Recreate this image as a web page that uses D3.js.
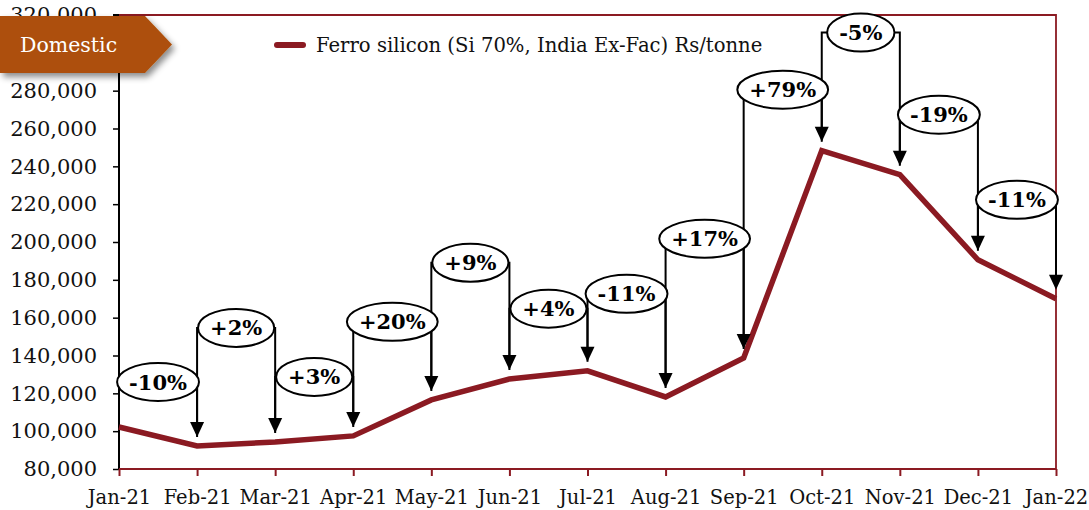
<!DOCTYPE html>
<html><head><meta charset="utf-8">
<script src="https://cdn.jsdelivr.net/npm/d3@7"></script>
<style>body{margin:0;background:#fff}svg{display:block}</style>
</head><body><svg id="c" width="1089" height="510"></svg>
<script>
const months = ["Jan-21","Feb-21","Mar-21","Apr-21","May-21","Jun-21","Jul-21","Aug-21","Sep-21","Oct-21","Nov-21","Dec-21","Jan-22"];
const prices = [102200, 92200, 94300, 97500, 116500, 127600, 131900, 118100, 138700, 248300, 235600, 190600, 170000];
const changeLabels = ["-10%","+2%","+3%","+20%","+9%","+4%","-11%","+17%","+79%","-5%","-19%","-11%"];
const bracketLevels = [126000, 154600, 128700, 157800, 189000, 164700, 172600, 201700, 280500, 310700, 267300, 222300];
const yTicks = [80000,100000,120000,140000,160000,180000,200000,220000,240000,260000,280000,300000,320000];
const seriesName = "Ferro silicon (Si 70%, India Ex-Fac) Rs/tonne";
const badgeText = "Domestic";

const RED = "#8B1A22";
const FONT = "'DejaVu Serif', Georgia, serif";
const svg = d3.select("#c");
const L = 119, R = 1056, T = 15, B = 469;
const x = d3.scalePoint().domain(months).range([L, R]);
const y = d3.scaleLinear().domain([80000, 320000]).range([B, T]);

const defs = svg.append("defs");
const f = defs.append("filter").attr("id","sh").attr("x","-20%").attr("y","-20%").attr("width","150%").attr("height","160%");
f.append("feDropShadow").attr("dx",3).attr("dy",4).attr("stdDeviation",3).attr("flood-color","#000").attr("flood-opacity",0.45);

// y axis
const ya = svg.append("g").attr("transform",`translate(${L},0)`)
  .call(d3.axisLeft(y).tickValues(yTicks).tickSize(6).tickPadding(16).tickFormat(d3.format(",")));
ya.select(".domain").attr("stroke","#000").attr("stroke-width",2).attr("d",`M-6,${T}H0V${B}`);
ya.selectAll(".tick line").attr("stroke","#000").attr("stroke-width",1.5);
ya.selectAll("text").attr("font-family",FONT).attr("font-size",21).attr("fill","#111");

// frame top/right
svg.append("path").attr("d",`M${L},${T}H${R}V${B}`).attr("fill","none").attr("stroke",RED).attr("stroke-width",1.8);

// x axis
const xa = svg.append("g").attr("transform",`translate(0,${B})`)
  .call(d3.axisBottom(x).tickSize(7).tickPadding(14));
xa.select(".domain").attr("stroke",RED).attr("stroke-width",2).attr("d",`M${L},0H${R}`);
xa.selectAll(".tick line").attr("stroke",RED).attr("stroke-width",2);
xa.selectAll("text").attr("font-family",FONT).attr("font-size",19.5).attr("fill","#111");

// line
svg.append("path").datum(prices)
  .attr("d", d3.line().x((d,i)=>x(months[i])).y(d=>y(d)))
  .attr("fill","none").attr("stroke",RED).attr("stroke-width",5.5).attr("stroke-linejoin","miter");

// brackets
const gap = 9, ah = 15, aw = 7;
const ann = svg.append("g");
changeLabels.forEach((lab,i)=>{
  const x0 = x(months[i]), x1 = x(months[i+1]);
  const yl = y(bracketLevels[i]);
  const y0 = y(prices[i]) - gap, y1 = y(prices[i+1]) - gap;
  ann.append("path").attr("d",`M${x0},${y0}V${yl}H${x1}V${y1-ah+1}`)
    .attr("fill","none").attr("stroke","#000").attr("stroke-width",2);
  ann.append("path").attr("d",`M${x1-aw},${y1-ah}L${x1+aw},${y1-ah}L${x1},${y1}Z`).attr("fill","#000");
});
changeLabels.forEach((lab,i)=>{
  const cx = (x(months[i]) + x(months[i+1]))/2;
  const cy = y(bracketLevels[i]);
  const g = ann.append("g");
  const el = g.append("ellipse").attr("cx",cx).attr("cy",cy).attr("ry",19)
    .attr("fill","#fff").attr("stroke","#000").attr("stroke-width",2);
  const t = g.append("text").attr("x",cx).attr("y",cy).attr("dy","0.36em")
    .attr("text-anchor","middle").attr("font-family",FONT).attr("font-weight","bold")
    .attr("font-size",21).attr("fill","#000").text(lab);
  const w = t.node().getComputedTextLength();
  el.attr("rx", w/2 + 12);
});

// legend
svg.append("line").attr("x1",277).attr("x2",303).attr("y1",45).attr("y2",45)
  .attr("stroke",RED).attr("stroke-width",6).attr("stroke-linecap","round");
svg.append("text").attr("x",316).attr("y",45).attr("dy","0.35em").attr("font-family",FONT)
  .attr("font-size",19.6).attr("fill","#111").text(seriesName);

// badge
svg.append("path").attr("d","M0,16H145L172,44.5L145,73H0Z").attr("fill","#AD5008").attr("filter","url(#sh)");
svg.append("text").attr("x",20).attr("y",44.5).attr("dy","0.35em").attr("font-family",FONT)
  .attr("font-size",20.5).attr("fill","#fff").text(badgeText);
</script></body></html>
